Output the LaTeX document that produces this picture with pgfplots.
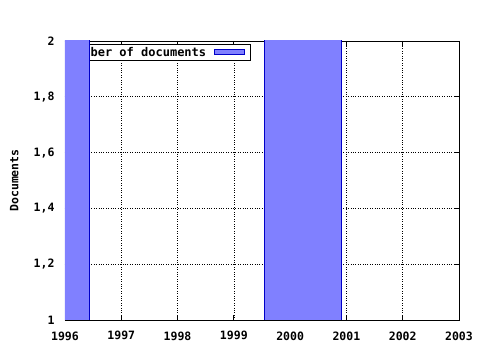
\documentclass[border=0pt]{standalone}
\usepackage{pgfplots}
\pgfplotsset{compat=1.18}
\usepackage{fontspec}
\setmainfont{DejaVu Sans Mono}
\definecolor{barfill}{RGB}{128,128,255}
\definecolor{baredge}{RGB}{0,0,200}
\newcommand{\gfont}{\fontsize{11.5}{13}\selectfont\bfseries}
\newcommand{\lfont}{\fontsize{12}{13}\selectfont\bfseries}
\begin{document}
\begin{tikzpicture}
\begin{axis}[
  set layers=standard,
  clip mode=individual,
  scale only axis,
  width=394pt, height=279pt,
  xmin=1996, xmax=2003, ymin=1, ymax=2,
  xtick={1996,...,2003},
  ytick={1,1.2,1.4,1.6,1.8,2},
  minor x tick num=3,
  /pgf/number format/assume math mode=true,
  xticklabel style={/pgf/number format/1000 sep={}, yshift=-8pt, font=\gfont},
  yticklabel style={/pgf/number format/use comma, xshift=-7pt, font=\gfont},
  tick align=inside,
  major tick length=5pt, minor tick length=3pt,
  tick style={black, line width=0.8pt},
  grid=major,
  major grid style={black, dotted, line width=0.6pt},
  axis line style={black, line width=0.8pt},
  ylabel={Documents},
  ylabel style={font=\gfont, at={(axis description cs:-0.129,0.5)}, anchor=center},
  legend style={at={(axis cs:1996,2)}, anchor=north west, xshift=1pt, yshift=-3pt,
    font=\lfont, draw=black, line width=0.8pt,
    inner sep=0.5pt, row sep=0pt, legend cell align=left},
  legend plot pos=right,
  legend image code/.code={\path (0pt,0pt); \draw[fill=barfill, draw=baredge, line width=0.8pt] (6pt,-2.5pt) rectangle (36pt,2.5pt); \path (41pt,0pt);},
]
\addplot[on layer=axis foreground, fill=barfill, draw=baredge, line width=0.8pt] coordinates {(1995.57,0.5) (1995.57,2.5) (1996.43,2.5) (1996.43,0.5)} -- cycle;
\addlegendentry{Number of documents}
\addplot[fill=barfill, draw=baredge, line width=0.8pt, forget plot] coordinates {(1999.54,0.5) (1999.54,2.5) (2000.91,2.5) (2000.91,0.5)} -- cycle;
\end{axis}
\useasboundingbox (-65pt,-30pt) rectangle (415pt,320pt);
\end{tikzpicture}
\end{document}
